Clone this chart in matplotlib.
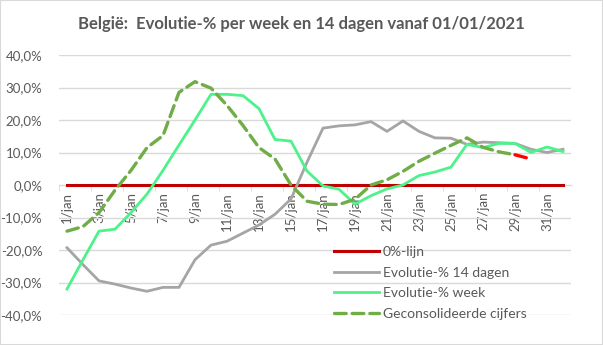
import matplotlib
matplotlib.use("Agg")
import matplotlib.pyplot as plt
from matplotlib.ticker import FuncFormatter, MultipleLocator
from matplotlib.patches import Rectangle

plt.rcParams['font.family'] = ['Lato', 'DejaVu Sans']

# data: 1/jan .. 1/feb
dates = ["%d/jan" % d for d in range(1, 32)] + ["1/feb"]
nul_lijn = [0.0] * 32
evol_14d = [-19.3, -24.5, -29.5, -30.5, -31.7, -32.7, -31.5, -31.5, -23.0, -18.5,
            -17.3, -14.8, -12.3, -9.0, -4.3, 7.0, 17.5, 18.2, 18.5, 19.5,
            16.5, 19.7, 16.5, 14.5, 14.4, 12.5, 13.2, 13.0, 12.8, 11.0, 10.0, 11.0]
evol_week = [-32.0, -23.0, -14.2, -13.6, -8.5, -2.8, 4.5, 12.3, 20.0, 27.9,
             27.9, 27.5, 23.5, 14.0, 13.5, 4.3, -0.3, -1.3, -5.9, -3.3,
             -1.2, 0.0, 2.9, 4.0, 5.5, 12.5, 11.5, 12.8, 12.8, 10.0, 11.7, 10.3]
geconsolideerd = [-14.2, -12.8, -8.5, -1.6, 4.5, 11.5, 15.2, 28.5, 31.8, 29.8,
                  24.5, 18.3, 11.5, 8.0, 0.0, -5.0, -5.9, -6.0, -4.4, 0.0,
                  1.6, 4.2, 7.3, 9.8, 12.2, 14.5, 11.6, 10.2, 9.3, 8.0]
n_geel = 29   # points drawn in green, the last segment is red

x = list(range(len(dates)))

fig = plt.figure(figsize=(6.03, 3.45), dpi=100)
ax = fig.add_axes([59/603, 30/345, 512/603, 260/345])

# spine first, setting its position resets the tick labels
for s in ['left', 'right', 'top']:
    ax.spines[s].set_visible(False)
ax.spines['bottom'].set_position(('data', 0))
ax.spines['bottom'].set_color('#D9D9D9')

ax.plot(x, nul_lijn, color='#C00000', lw=2.2, label='0%-lijn', zorder=3)
ax.plot(x, evol_14d, color='#A5A5A5', lw=2.0, label='Evolutie-% 14 dagen', zorder=3)
ax.plot(x, evol_week, color='#4CF28A', lw=2.0, label='Evolutie-% week', zorder=3)
ax.plot(x[:n_geel], geconsolideerd[:n_geel], color='#70AD47', lw=2.4,
        dashes=(3.5, 1.8), dash_capstyle='round', label='Geconsolideerde cijfers', zorder=4)
ax.plot(x[n_geel - 1:len(geconsolideerd)], geconsolideerd[n_geel - 1:], color='#FF0000', lw=2.4,
        dashes=(3.5, 1.8), dash_capstyle='round', zorder=4)

ax.set_xlim(-0.5, len(dates) - 0.5)
ax.set_ylim(-40, 40)
ax.yaxis.set_major_locator(MultipleLocator(10))
ax.yaxis.set_major_formatter(FuncFormatter(lambda v, p: ("%.1f%%" % v).replace('.', ',')))
ax.grid(axis='y', color='#D9D9D9', lw=1.0, zorder=0)
ax.set_axisbelow(True)

ax.set_xticks(x[::2])
ax.set_xticklabels(dates[::2], rotation=90, fontsize=9.5, color='#595959')
ax.set_xticks([v - 0.5 for v in x[::2]], minor=True)
ax.tick_params(axis='x', which='major', length=0, pad=5)
ax.tick_params(axis='x', which='minor', length=4, color='#D9D9D9')
ax.tick_params(axis='y', length=0, labelsize=9.5, labelcolor='#595959', pad=12)

fig.text(0.5, 0.93, "België:  Evolutie-% per week en 14 dagen vanaf 01/01/2021",
         ha='center', va='center', fontsize=12, fontweight='bold', color='#595959')

leg = ax.legend(loc='upper left', bbox_to_anchor=(334/603, 99/345), bbox_transform=fig.transFigure,
                frameon=False, fontsize=10, handlelength=3.25, labelspacing=0.62, handletextpad=0.25,
                borderaxespad=0, borderpad=0)
for t in leg.get_texts():
    t.set_color('#595959')

fig.patches.append(Rectangle((0, 0), 1, 1, transform=fig.transFigure, fill=False,
                             edgecolor='#D9D9D9', lw=1.5))

fig.savefig("out.png", dpi=100)
